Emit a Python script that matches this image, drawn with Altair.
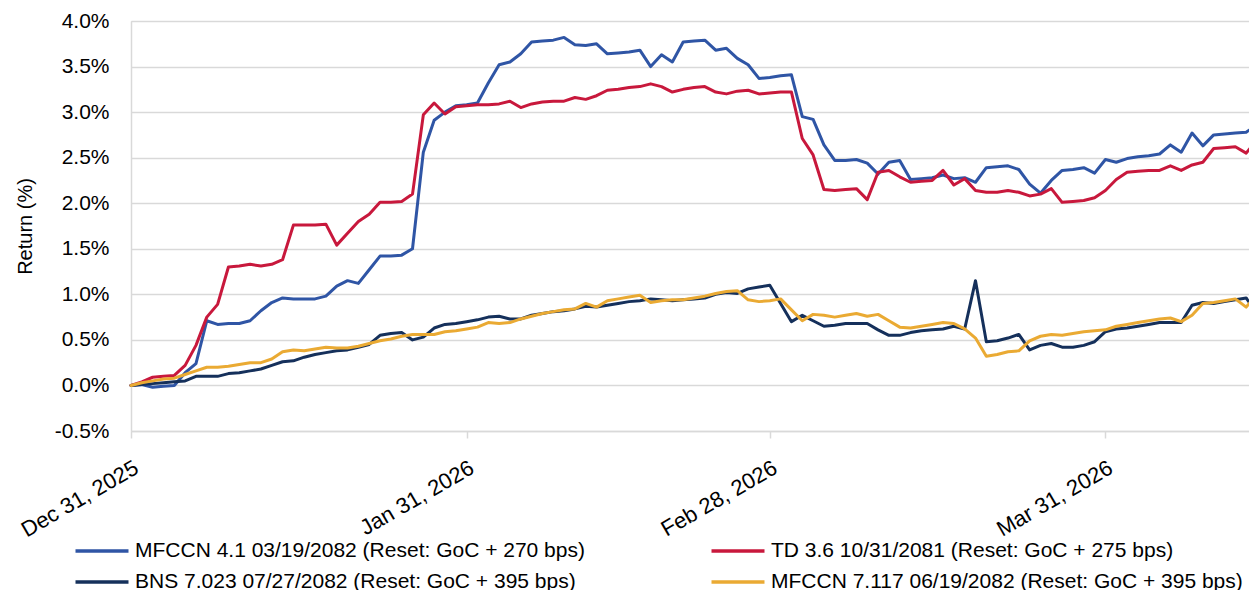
import altair as alt
import pandas as pd

# ---------------- data ----------------
start_date = "2025-12-31"
n_days = 105

series_names = [
    "MFCCN 4.1 03/19/2082 (Reset: GoC + 270 bps)",
    "TD 3.6 10/31/2081 (Reset: GoC + 275 bps)",
    "BNS 7.023 07/27/2082 (Reset: GoC + 395 bps)",
    "MFCCN 7.117 06/19/2082 (Reset: GoC + 395 bps)",
]
series_colors = ["#2F55A5", "#C8183C", "#15305B", "#EAAA33"]
# legend fills column by column: this order gives rows (MFCCN 4.1, TD) and (BNS, MFCCN 7.117)
legend_order = [0, 2, 1, 3]

mfccn_41 = [
    0.00, 0.01, -0.02, -0.01, 0.00, 0.14, 0.24, 0.71, 0.67, 0.68,
    0.68, 0.71, 0.82, 0.91, 0.96, 0.95, 0.95, 0.95, 0.98, 1.09,
    1.15, 1.12, 1.27, 1.42, 1.42, 1.43, 1.50, 2.56, 2.91, 3.00,
    3.07, 3.08, 3.10, 3.32, 3.52, 3.55, 3.64, 3.77, 3.78, 3.79,
    3.82, 3.74, 3.73, 3.75, 3.64, 3.65, 3.66, 3.68, 3.50, 3.63,
    3.55, 3.77, 3.78, 3.79, 3.68, 3.70, 3.59, 3.52, 3.37, 3.38,
    3.40, 3.41, 2.95, 2.92, 2.64, 2.47, 2.47, 2.48, 2.44, 2.32,
    2.45, 2.47, 2.26, 2.27, 2.28, 2.31, 2.27, 2.28, 2.23, 2.39,
    2.40, 2.41, 2.37, 2.21, 2.11, 2.25, 2.36, 2.37, 2.39, 2.33,
    2.48, 2.45, 2.49, 2.51, 2.52, 2.54, 2.64, 2.56, 2.77, 2.63,
    2.75, 2.76, 2.77, 2.78, 2.86,
]
td_36 = [
    0.00, 0.04, 0.09, 0.10, 0.11, 0.22, 0.44, 0.75, 0.89, 1.30,
    1.31, 1.33, 1.31, 1.33, 1.38, 1.76, 1.76, 1.76, 1.77, 1.54,
    1.67, 1.80, 1.88, 2.01, 2.01, 2.02, 2.10, 2.97, 3.10, 2.98,
    3.06, 3.07, 3.08, 3.08, 3.09, 3.12, 3.05, 3.09, 3.11, 3.12,
    3.12, 3.16, 3.14, 3.18, 3.24, 3.25, 3.27, 3.28, 3.31, 3.28,
    3.22, 3.25, 3.27, 3.28, 3.22, 3.20, 3.23, 3.24, 3.20, 3.21,
    3.22, 3.22, 2.71, 2.53, 2.15, 2.14, 2.15, 2.16, 2.04, 2.34,
    2.36, 2.29, 2.23, 2.24, 2.25, 2.36, 2.20, 2.27, 2.14, 2.12,
    2.12, 2.14, 2.12, 2.08, 2.10, 2.16, 2.01, 2.02, 2.03, 2.06,
    2.14, 2.26, 2.34, 2.35, 2.36, 2.36, 2.41, 2.36, 2.42, 2.45,
    2.60, 2.61, 2.62, 2.55, 2.70,
]
bns_7023 = [
    0.00, 0.01, 0.02, 0.03, 0.04, 0.05, 0.10, 0.10, 0.10, 0.13,
    0.14, 0.16, 0.18, 0.22, 0.26, 0.27, 0.31, 0.34, 0.36, 0.38,
    0.39, 0.42, 0.45, 0.55, 0.57, 0.58, 0.50, 0.53, 0.63, 0.67,
    0.68, 0.70, 0.72, 0.75, 0.76, 0.73, 0.73, 0.77, 0.79, 0.81,
    0.82, 0.84, 0.87, 0.86, 0.88, 0.90, 0.92, 0.93, 0.95, 0.94,
    0.93, 0.94, 0.95, 0.96, 1.00, 1.02, 1.01, 1.06, 1.08, 1.10,
    0.90, 0.70, 0.77, 0.71, 0.65, 0.66, 0.68, 0.68, 0.68, 0.61,
    0.55, 0.55, 0.58, 0.60, 0.61, 0.62, 0.65, 0.62, 1.15, 0.48,
    0.49, 0.52, 0.56, 0.39, 0.44, 0.46, 0.42, 0.42, 0.44, 0.48,
    0.59, 0.62, 0.63, 0.65, 0.67, 0.69, 0.69, 0.69, 0.88, 0.91,
    0.90, 0.92, 0.94, 0.96, 0.79,
]
mfccn_7117 = [
    0.00, 0.03, 0.05, 0.07, 0.08, 0.12, 0.16, 0.20, 0.20, 0.21,
    0.23, 0.25, 0.25, 0.29, 0.37, 0.39, 0.38, 0.40, 0.42, 0.41,
    0.41, 0.43, 0.46, 0.49, 0.51, 0.54, 0.56, 0.56, 0.56, 0.59,
    0.60, 0.62, 0.64, 0.69, 0.68, 0.69, 0.73, 0.76, 0.79, 0.81,
    0.83, 0.84, 0.90, 0.86, 0.93, 0.95, 0.97, 0.99, 0.91, 0.93,
    0.94, 0.94, 0.96, 0.98, 1.01, 1.03, 1.04, 0.94, 0.92, 0.93,
    0.95, 0.83, 0.71, 0.78, 0.77, 0.75, 0.77, 0.79, 0.76, 0.78,
    0.71, 0.64, 0.63, 0.65, 0.67, 0.69, 0.68, 0.62, 0.52, 0.32,
    0.34, 0.37, 0.38, 0.49, 0.54, 0.56, 0.55, 0.57, 0.59, 0.60,
    0.61, 0.65, 0.67, 0.69, 0.71, 0.73, 0.74, 0.70, 0.77, 0.90,
    0.91, 0.93, 0.95, 0.86, 1.00,
]

y_ticks = [-0.5, 0.0, 0.5, 1.0, 1.5, 2.0, 2.5, 3.0, 3.5, 4.0]
x_tick_dates = [(2025, 12, 31), (2026, 1, 31), (2026, 2, 28), (2026, 3, 31)]
x_domain = [(2025, 12, 31), (2026, 4, 14)]

# ---------------- table ----------------
dates = pd.date_range(start_date, periods=n_days, freq="D").strftime("%Y-%m-%dT00:00:00")
rows = []
for name, vals in zip(series_names, [mfccn_41, td_36, bns_7023, mfccn_7117]):
    for d, v in zip(dates, vals):
        rows.append({"date": d, "series": name, "ret": v})
df = pd.DataFrame(rows)

FONT = "Liberation Sans"
GRID = "#D9D9D9"


def dt(t):
    return alt.DateTime(year=t[0], month=t[1], date=t[2])


x_enc = alt.X(
    "date:T",
    title=None,
    scale=alt.Scale(domain=[dt(t) for t in x_domain]),
    axis=alt.Axis(
        values=[dt(t) for t in x_tick_dates],
        format="%b %d, %Y",
        labelAngle=-30,
        labelAlign="right",
        labelBaseline="top",
        labelPadding=19,
        labelFontSize=22,
        labelFont=FONT,
        labelColor="#000000",
        labelOverlap=False,
        labelFlush=False,
        labelBound=False,
        domainColor=GRID,
        domainWidth=1.5,
        tickColor=GRID,
        tickWidth=1.5,
        tickSize=7,
        grid=False,
    ),
)

y_enc = alt.Y(
    "ret:Q",
    title="Return (%)",
    scale=alt.Scale(domain=[y_ticks[0], y_ticks[-1]], nice=False, zero=False),
    axis=alt.Axis(
        values=y_ticks,
        labelExpr="(datum.value < 0 ? '-' : '') + format(abs(datum.value), '.1f') + '%'",
        ticks=False,
        labelPadding=22,
        labelFontSize=21,
        labelFont=FONT,
        labelColor="#000000",
        gridColor=GRID,
        gridWidth=1.5,
        domainColor=GRID,
        domainWidth=1.5,
        titleFont=FONT,
        titleFontSize=20,
        titleFontWeight="normal",
        titleColor="#000000",
        titlePadding=19,
    ),
)

color_enc = alt.Color(
    "series:N",
    scale=alt.Scale(
        domain=[series_names[i] for i in legend_order],
        range=[series_colors[i] for i in legend_order],
    ),
    legend=alt.Legend(
        title=None,
        orient="none",
        legendX=-44,
        legendY=515,
        columns=2,
        symbolType="M-2,0L2,0",
        symbolSize=702,
        symbolStrokeWidth=3.5,
        labelFont=FONT,
        labelFontSize=21,
        labelColor="#000000",
        labelLimit=800,
        labelOffset=18,
        columnPadding=119,
        rowPadding=6,
    ),
)

chart = (
    alt.Chart(df)
    .mark_line(strokeWidth=3, strokeJoin="round", strokeCap="round")
    .encode(x=x_enc, y=y_enc, color=color_enc)
    .properties(
        width=1126,
        height=410,
        autosize=alt.AutoSizeParams(type="none"),
        padding={"left": 123, "top": 13, "right": -8, "bottom": 159},
    )
    .configure_view(stroke=None)
    .configure(background="white")
)

chart.save("out.html", embed_options={"renderer": "svg", "actions": False})
